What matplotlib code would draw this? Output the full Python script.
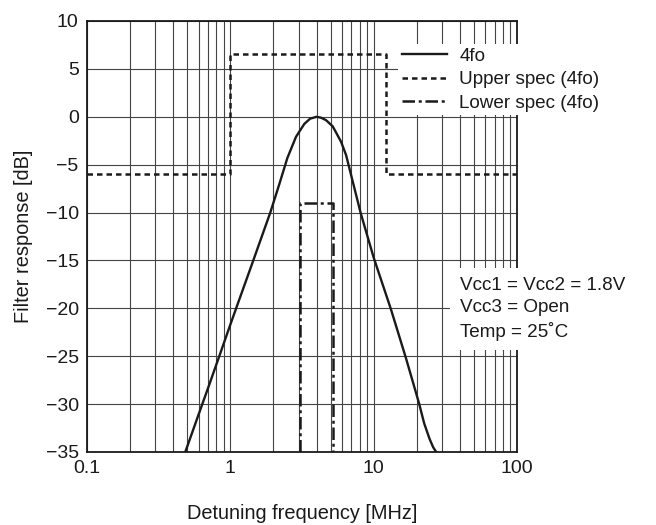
import matplotlib
matplotlib.use("Agg")
import matplotlib.pyplot as plt
from matplotlib.ticker import FixedLocator, FixedFormatter, LogLocator, NullFormatter

plt.rcParams['font.family'] = ['Liberation Sans', 'DejaVu Sans']

# 4fo filter response curve
freq_4fo = [0.485, 0.6, 0.7, 0.86, 1.0, 1.16, 1.47, 1.9, 2.2, 2.5, 2.87, 3.28, 3.6, 4.0,
            4.3, 4.65, 5.18, 5.92, 6.42, 7.1, 8.1, 10.0, 13.2, 16.8, 18.7, 20.8, 22.5,
            24.5, 26.0, 27.3]
resp_4fo = [-35.0, -31.1, -28.3, -24.5, -21.7, -19.0, -14.7, -10.0, -7.0, -4.3, -2.1, -0.75, -0.2, 0.0,
            -0.1, -0.35, -1.0, -2.6, -4.0, -6.6, -10.0, -14.7, -20.1, -25.2, -27.6, -30.0, -32.0,
            -33.6, -34.5, -35.0]

# Upper spec (4fo)
freq_upper = [0.1, 1.0, 1.0, 12.1, 12.1, 100]
resp_upper = [-6, -6, 6.6, 6.6, -6, -6]

# Lower spec (4fo)
freq_lower = [3.05, 3.05, 5.2, 5.2]
resp_lower = [-35, -9, -9, -35]

x_ticks = [0.1, 1, 10, 100]
x_tick_labels = ['0.1', '1', '10', '100']
y_ticks = [10, 5, 0, -5, -10, -15, -20, -25, -30, -35]
y_tick_labels = ['10', '5', '0', '\u22125', '\u221210', '\u221215', '\u221220', '\u221225', '\u221230', '\u221235']

fig = plt.figure(figsize=(6.56, 5.25), dpi=100)
ax = fig.add_axes([87/656, 1 - 452/525, (517 - 87)/656, (452 - 21)/525])

ax.set_xscale('log')
ax.set_xlim(0.1, 100)
ax.set_ylim(-35, 10)

ink = '#1a1a1a'
ax.plot(freq_4fo, resp_4fo, color=ink, lw=1.7, label='4fo', zorder=3)
ax.plot(freq_upper, resp_upper, color=ink, lw=1.8, linestyle=(0, (2.2, 1.6)),
        label='Upper spec (4fo)', zorder=3)
ax.plot(freq_lower, resp_lower, color=ink, lw=1.8, linestyle=(0, (5, 1.5, 1.2, 1.5)),
        label='Lower spec (4fo)', zorder=3)

ax.xaxis.set_major_locator(FixedLocator(x_ticks))
ax.xaxis.set_major_formatter(FixedFormatter(x_tick_labels))
ax.xaxis.set_minor_locator(LogLocator(base=10, subs=range(2, 10)))
ax.xaxis.set_minor_formatter(NullFormatter())
ax.yaxis.set_major_locator(FixedLocator(y_ticks))
ax.yaxis.set_major_formatter(FixedFormatter(y_tick_labels))

ax.grid(True, which='both', axis='x', color='#444444', lw=0.8)
ax.grid(True, which='major', axis='y', color='#444444', lw=0.8)
ax.set_axisbelow(True)

ax.tick_params(axis='both', which='both', length=0, labelsize=14, colors=ink)
ax.tick_params(axis='y', pad=6)
ax.tick_params(axis='x', pad=6)

for s in ax.spines.values():
    s.set_color(ink)
    s.set_linewidth(1.3)

ax.set_xlabel('Detuning frequency [MHz]', fontsize=14.4, color=ink, labelpad=19)
ax.set_ylabel('Filter response [dB]', fontsize=14.4, color=ink, labelpad=9)

leg = ax.legend(loc='upper left', bbox_to_anchor=((398 - 87)/430, 1 - (44 - 21)/431),
                borderaxespad=0, frameon=True, fancybox=False, framealpha=1,
                facecolor='white', edgecolor='none',
                fontsize=13.6, handlelength=2.4, handletextpad=0.64, labelspacing=0.32,
                borderpad=0.2)
leg.set_zorder(5)
for t in leg.get_texts():
    t.set_color(ink)

ax.text((460 - 87)/430, 1 - (309 - 21)/431, 'Vcc1 = Vcc2 = 1.8V\nVcc3 = Open\nTemp = 25\u02daC',
        transform=ax.transAxes, ha='left', va='center', fontsize=13.6, color=ink,
        linespacing=1.38, zorder=6, clip_on=False,
        bbox=dict(facecolor='white', edgecolor='none', pad=7))

fig.savefig('out.png', dpi=100)
